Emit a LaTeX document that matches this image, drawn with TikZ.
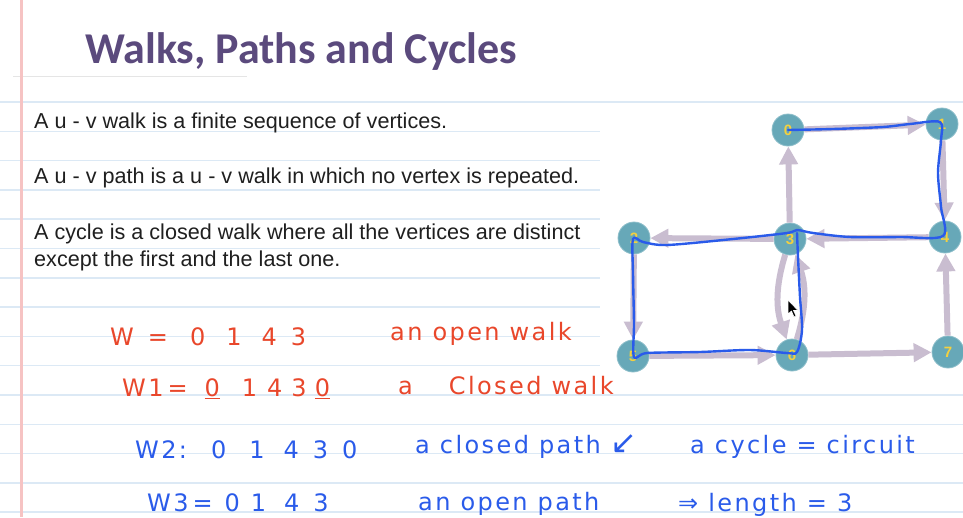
\documentclass[tikz,border=0pt]{standalone}
\usepackage{fontspec}
\setmainfont{Liberation Sans}
\newfontfamily\titlefont{Carlito}
\newfontfamily\handfont[LetterSpace=10]{DejaVu Sans}
\usetikzlibrary{arrows.meta}

\definecolor{ruleblue}{HTML}{DCE9F5}
\definecolor{marginred}{HTML}{F6C3C3}
\definecolor{titlepurple}{HTML}{5B4A7D}
\definecolor{vertexfill}{HTML}{67A8B8}
\definecolor{vertexlabel}{HTML}{F4D03F}
\definecolor{edgegrey}{HTML}{C9BDD0}
\definecolor{inkred}{HTML}{E9472B}
\definecolor{inkblue}{HTML}{2A5BEA}

\newcommand{\hg}[1]{\hspace{#1pt}}

\tikzset{
  vertex/.style={circle, fill=vertexfill, draw=vertexfill!75!white, line width=0.8pt,
    minimum size=32pt, inner sep=0pt, text=vertexlabel,
    font=\bfseries\fontsize{15}{15}\selectfont},
  dedge/.style={draw=edgegrey, line width=6pt, -{Triangle[length=18pt,width=18pt]}},
  ruled/.style={ruleblue, line width=1.5pt},
  printed/.style={anchor=base west, inner sep=0pt, text=black!88,
    font=\fontsize{21.6}{26}\selectfont},
  redink/.style={anchor=base west, inner sep=0pt, text=inkred,
    font=\handfont\fontsize{24}{28}\selectfont},
  blueink/.style={redink, text=inkblue},
}

\begin{document}
\begin{tikzpicture}[x=1pt,y=-1pt]
    \useasboundingbox (0,0) rectangle (963,517);
    \fill[white] (0,0) rectangle (963,517);

    % notebook page
    \foreach \k in {0,...,14}
        \draw[ruled] (0,{102+29.3*\k}) -- (963,{102+29.3*\k});
    \draw[black!10, line width=1pt] (13,76) -- (247,76);
    \fill[white] (600,104) rectangle (963,383);
    \draw[marginred, line width=2.5pt] (21.7,0) -- (21.7,517);

    % title and definitions
    \node[anchor=base west, inner sep=0pt, text=titlepurple,
          font=\titlefont\bfseries\fontsize{44}{44}\selectfont] (title) at (85,63) {Walks, Paths and Cycles};
    \node[printed] (defwalk) at (34,128.3) {A u - v walk is a finite sequence of vertices.};
    \node[printed] (defpath) at (34,183.3) {A u - v path is a u - v walk in which no vertex is repeated.};
    \node[printed] (defcycle) at (34,239.3) {A cycle is a closed walk where all the vertices are distinct};
    \node[printed] (defcycleb) at (34,266.7) {except the first and the last one.};

    % graph
    \node[vertex] (v0) at (788,130) {0};
    \node[vertex] (v1) at (942,124) {1};
    \node[vertex] (v2) at (634,238) {2};
    \node[vertex] (v3) at (790,239) {3};
    \node[vertex] (v4) at (945,237) {4};
    \node[vertex] (v5) at (633,356) {5};
    \node[vertex] (v6) at (792,355) {6};
    \node[vertex] (v7) at (948,352) {7};

    \draw[dedge] (v0) -- (v1);
    \draw[dedge] (v1) -- (v4);
    \draw[dedge] (v4) -- (v3);
    \draw[dedge] (v3) -- (v0);
    \draw[dedge] (v3) -- (v2);
    \draw[dedge] (v2) -- (v5);
    \draw[dedge] (v5) -- (v6);
    \draw[dedge] (v6) -- (v7);
    \draw[dedge] (v7) -- (v4);
    \draw[dedge] (v3) to[bend right=18] (v6);
    \draw[dedge] (v6) to[bend right=18] (v3);

    % walk traced by hand
    \draw[inkblue, line width=2.4pt, line cap=round, line join=round] plot[smooth, tension=0.5] coordinates {
        (788,130) (833,129) (883,127) (910,124) (940,122) (941,140) (938,173) (941,207) (943,236)
        (900,237) (850,237) (813,233) (797,230) (787,233) (733,239) (667,245) (643,242) (633,239)
        (633,273) (634,323) (634,357) (647,353) (700,352) (750,350) (787,353) (797,352)
        (802,330) (800,297) (798,257) (797,233)};

    % mouse pointer
    \filldraw[fill=black, draw=white, line width=0.6pt]
        (788,300) -- (788,314) -- (791.5,311) -- (794,317) -- (796,316) -- (793.5,310.5) -- (798,310.5) -- cycle;

    % notes
    \node[redink] (wopen) at (110,345) {W\hg{14}=\hg{22}0\hg{21}1\hg{20}4\hg{14}3};
    \node[redink] (wopentxt) at (390,340) {an open walk};
    \node[redink] (wclosed) at (122,396) {W1\hg{4}=\hg{17}\underline{0}\hg{22}1\hg{10}4\hg{9}3\hg{8}\underline{0}};
    \node[redink] (wclosedtxt) at (398,394) {a\hg{36}Closed walk};
    \node[blueink] (wcycle) at (135,458) {W2:\hg{24}0\hg{23}1\hg{19}4\hg{14}3\hg{14}0};
    \node[blueink] (wcycletxt) at (415,453) {a closed path {\fontsize{32}{32}\selectfont ↙}};
    \node[blueink] (wcircuit) at (690,453) {a cycle = circuit};
    \node[blueink] (wpath) at (147,511) {W3\hg{4}=\hg{12}0\hg{11}1\hg{18}4\hg{14}3};
    \node[blueink] (wpathtxt) at (418,510) {an open path};
    \node[blueink] (wlength) at (678,511) {⇒ length = 3};
\end{tikzpicture}
\end{document}
